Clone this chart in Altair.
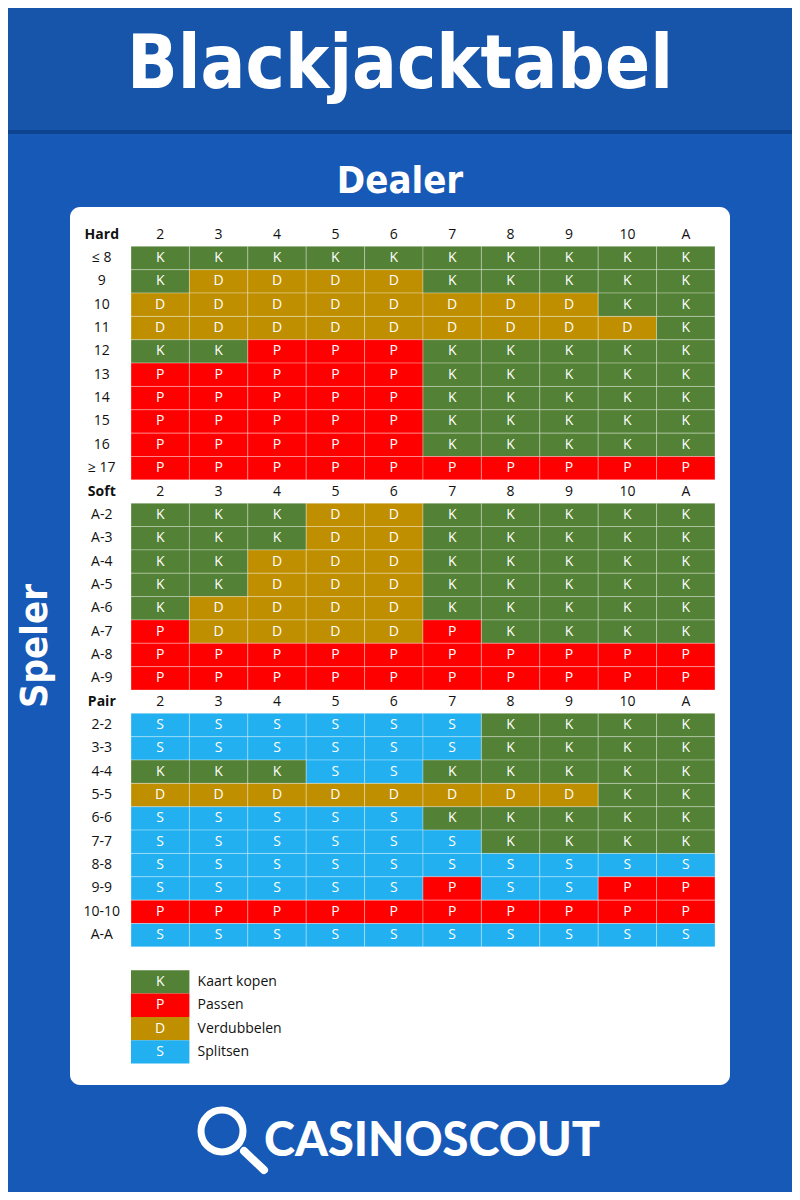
import altair as alt
import pandas as pd

# ---------------- data ----------------
DEALER = ["2", "3", "4", "5", "6", "7", "8", "9", "10", "A"]
SECTIONS = ["Hard", "Soft", "Pair"]

HARD_ROWS = ["≤ 8", "9", "10", "11", "12", "13", "14", "15", "16", "≥ 17"]
HARD_ACT = ["KKKKKKKKKK", "KDDDDKKKKK", "DDDDDDDDKK", "DDDDDDDDDK", "KKPPPKKKKK",
            "PPPPPKKKKK", "PPPPPKKKKK", "PPPPPKKKKK", "PPPPPKKKKK", "PPPPPPPPPP"]

SOFT_ROWS = ["A-2", "A-3", "A-4", "A-5", "A-6", "A-7", "A-8", "A-9"]
SOFT_ACT = ["KKKDDKKKKK", "KKKDDKKKKK", "KKDDDKKKKK", "KKDDDKKKKK", "KDDDDKKKKK",
            "PDDDDPKKKK", "PPPPPPPPPP", "PPPPPPPPPP"]

PAIR_ROWS = ["2-2", "3-3", "4-4", "5-5", "6-6", "7-7", "8-8", "9-9", "10-10", "A-A"]
PAIR_ACT = ["SSSSSSKKKK", "SSSSSSKKKK", "KKKSSKKKKK", "DDDDDDDDKK", "SSSSSKKKKK",
            "SSSSSSKKKK", "SSSSSSSSSS", "SSSSSPSSPP", "PPPPPPPPPP", "SSSSSSSSSS"]

LEGEND_CODES = ["K", "P", "D", "S"]
LEGEND_LABELS = ["Kaart kopen", "Passen", "Verdubbelen", "Splitsen"]
ACTION_COLORS = ["#538135", "#FF0000", "#BF8F00", "#22B0F0"]

TITLE = "Blackjacktabel"
X_TITLE = "Dealer"
Y_TITLE = "Speler"
BRAND = "CASINOSCOUT"

# ---------------- tables ----------------
LEG_ROWS = ["leg-" + c for c in LEGEND_CODES]
ROW_ORDER = (["Hard"] + HARD_ROWS + ["Soft"] + SOFT_ROWS + ["Pair"] + PAIR_ROWS
             + ["gap"] + LEG_ROWS)
COLS = ["lbl"] + DEALER

cells = []
for rows, acts in [(HARD_ROWS, HARD_ACT), (SOFT_ROWS, SOFT_ACT), (PAIR_ROWS, PAIR_ACT)]:
    for r, a in zip(rows, acts):
        for c, code in zip(DEALER, a):
            cells.append({"row": r, "col": c, "act": code})
cells = pd.DataFrame(cells)

headers = pd.DataFrame([{"row": s, "col": c, "label": c} for s in SECTIONS for c in DEALER])
row_labels = pd.DataFrame([{"row": r, "col": "lbl", "label": r}
                           for r in HARD_ROWS + SOFT_ROWS + PAIR_ROWS])
sec_labels = pd.DataFrame([{"row": s, "col": "lbl", "label": s} for s in SECTIONS])
legend = pd.DataFrame([{"row": lr, "col": "2", "col2": "3", "act": c, "label": l}
                       for lr, c, l in zip(LEG_ROWS, LEGEND_CODES, LEGEND_LABELS)])
one = pd.DataFrame({"k": [0]})

W, H = 784, 1184
ROW_H = 23.35
Y0 = 215
xs = alt.Scale(domain=COLS, range=[64.6, 707], paddingInner=0, paddingOuter=0)
ys = alt.Scale(domain=ROW_ORDER, range=[Y0, Y0 + ROW_H * len(ROW_ORDER)],
               paddingInner=0, paddingOuter=0)
cs = alt.Scale(domain=LEGEND_CODES, range=ACTION_COLORS)

X = lambda f="col": alt.X(f + ":N", scale=xs, axis=None)
Y = alt.Y("row:N", scale=ys, axis=None)

BODY = "#1759B6"
BAND = "#1655AA"
FONT = "Open Sans"
TFONT = "Liberation Sans Narrow, DejaVu Sans Condensed, Roboto, sans-serif"

base = alt.Chart(one)

band = base.mark_rect(color=BAND).encode(
    x=alt.value(0), x2=alt.value(W), y=alt.value(0), y2=alt.value(122))
band_shadow = base.mark_rect(color="#0E4390").encode(
    x=alt.value(0), x2=alt.value(W), y=alt.value(122), y2=alt.value(126))

title = base.mark_text(text=TITLE, font=TFONT, fontSize=74, fontWeight="bold",
                       color="white", align="center", baseline="alphabetic").encode(
    x=alt.value(392), y=alt.value(80))
dealer = base.mark_text(text=X_TITLE, font=TFONT, fontSize=38, fontWeight="bold",
                        color="white", align="center", baseline="alphabetic").encode(
    x=alt.value(392), y=alt.value(185))
speler = base.mark_text(text=Y_TITLE, font=TFONT, fontSize=38, fontWeight="bold",
                        color="white", align="center", baseline="middle", angle=270).encode(
    x=alt.value(28), y=alt.value(638))

panel = base.mark_rect(color="white", cornerRadius=10).encode(
    x=alt.value(62), x2=alt.value(722), y=alt.value(199), y2=alt.value(1077))

cell_rects = alt.Chart(cells).mark_rect(stroke="white", strokeOpacity=0.3, strokeWidth=1).encode(
    x=X(), y=Y, color=alt.Color("act:N", scale=cs, legend=None))
cell_text = alt.Chart(cells).mark_text(font=FONT, fontSize=14, color="white").encode(
    x=X(), y=Y, text="act:N")

head_text = alt.Chart(headers).mark_text(font=FONT, fontSize=14, color="#111111").encode(
    x=X(), y=Y, text="label:N")
row_text = alt.Chart(row_labels).mark_text(font=FONT, fontSize=14, color="#111111").encode(
    x=X(), y=Y, text="label:N")
sec_text = alt.Chart(sec_labels).mark_text(font=FONT, fontSize=14, fontWeight="bold",
                                           color="#111111").encode(
    x=X(), y=Y, text="label:N")

leg_rects = alt.Chart(legend).mark_rect().encode(
    x=X(), y=Y, color=alt.Color("act:N", scale=cs, legend=None))
leg_codes = alt.Chart(legend).mark_text(font=FONT, fontSize=14, color="white").encode(
    x=X(), y=Y, text="act:N")
leg_labels = alt.Chart(legend).mark_text(font=FONT, fontSize=14, color="#111111",
                                         align="left", dx=-21).encode(
    x=X("col2"), y=Y, text="label:N")

# logo
lens = base.mark_point(shape="circle", filled=False, stroke="white", strokeWidth=7,
                       size=1764, opacity=1).encode(x=alt.value(214), y=alt.value(1123))
handle = base.mark_rule(stroke="white", strokeWidth=8, strokeCap="round").encode(
    x=alt.value(236), y=alt.value(1143), x2=alt.value(256), y2=alt.value(1162))
brand = base.mark_text(text=BRAND, font="Lato", fontSize=47, fontWeight=900,
                       color="white", align="left", baseline="alphabetic").encode(
    x=alt.value(256), y=alt.value(1148))

chart = alt.layer(
    band, band_shadow, title, dealer, speler, panel,
    cell_rects, cell_text, head_text, row_text, sec_text,
    leg_rects, leg_codes, leg_labels, lens, handle, brand,
).properties(
    width=W, height=H, padding=0, background=BODY,
    autosize=alt.AutoSizeParams(type="none"),
).configure_view(strokeWidth=0)

chart.save("out.html", embed_options={"renderer": "svg", "actions": False})
